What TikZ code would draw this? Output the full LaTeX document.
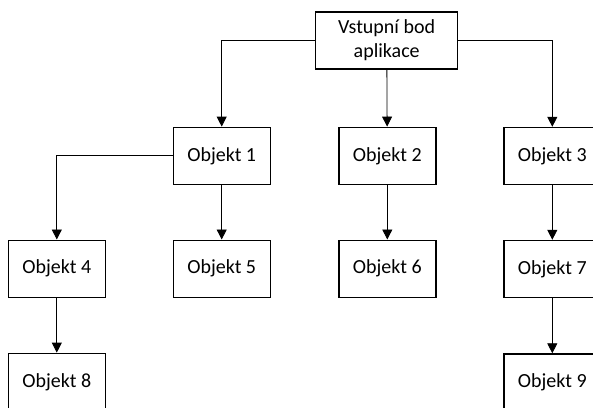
\documentclass[tikz,border=0pt]{standalone}
\usepackage{fontspec}
\setmainfont{Carlito}
\usetikzlibrary{arrows.meta}
\begin{document}
\begin{tikzpicture}[x=1pt,y=-1pt,
  box/.style={draw, line width=1.4pt, minimum width=97pt, minimum height=57pt,
    inner sep=0pt, align=center, font=\fontsize{20}{23.5}\selectfont},
  link/.style={line width=0.8pt, -{Triangle[width=10pt,length=10pt]}}]
\clip (0,0) rectangle (593,407);
% entry point of the application
\node[box, minimum width=142pt] (entry) at (386.7,40.3) {Vstupní bod\\aplikace};
% first level
\node[box] (o1) at (221.7,155.8) {Objekt 1};
\node[box] (o2) at (387.3,155.8) {Objekt 2};
\node[box] (o3) at (552.3,156) {Objekt 3};
% second level
\node[box] (o4) at (56.8,268.7) {Objekt 4};
\node[box] (o5) at (221.7,268.7) {Objekt 5};
\node[box] (o6) at (387.3,268.7) {Objekt 6};
\node[box] (o7) at (552.3,269) {Objekt 7};
% third level
\node[box] (o8) at (56.8,381.8) {Objekt 8};
\node[box] (o9) at (552.3,382.5) {Objekt 9};
% connectors
\draw[link] (entry.west) -| (o1);
\draw[link] (entry) -- (o2);
\draw[link] (entry.east) -| (o3);
\draw[link] (o1.west) -| (o4);
\draw[link] (o1) -- (o5);
\draw[link] (o2) -- (o6);
\draw[link] (o3) -- (o7);
\draw[link] (o4) -- (o8);
\draw[link] (o7) -- (o9);
\end{tikzpicture}
\end{document}
